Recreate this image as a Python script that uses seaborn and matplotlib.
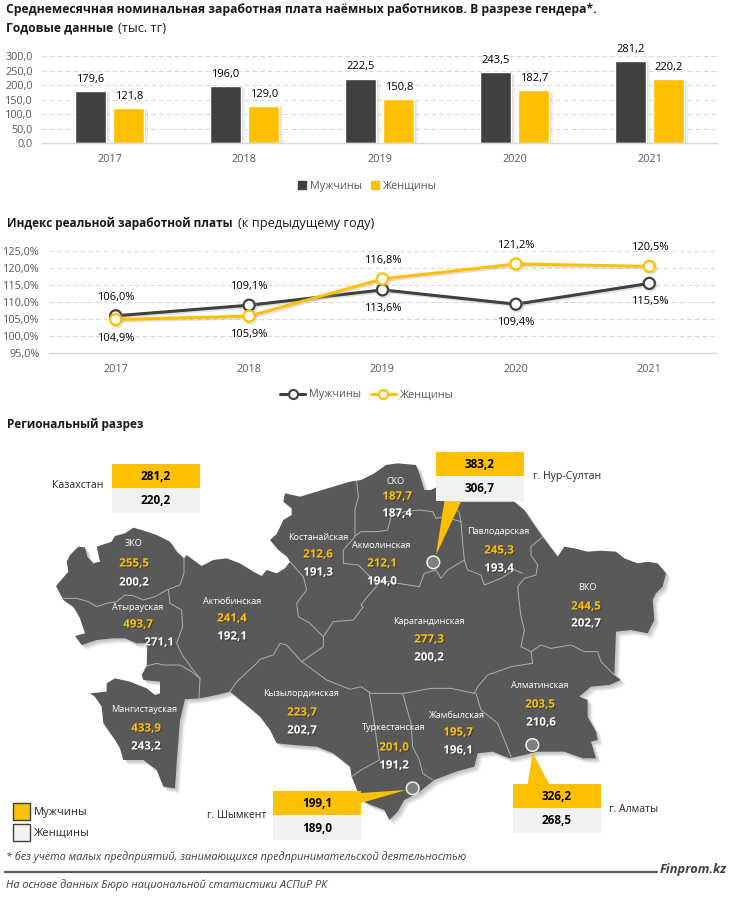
import matplotlib
matplotlib.use("Agg")
import matplotlib.pyplot as plt
import matplotlib.patheffects as pe
from matplotlib.patches import Polygon, Rectangle, Circle
from matplotlib.lines import Line2D
import pandas as pd
import seaborn as sns

# данные
years = ["2017", "2018", "2019", "2020", "2021"]
men_salary = [179.6, 196.0, 222.5, 243.5, 281.2]
women_salary = [121.8, 129.0, 150.8, 182.7, 220.2]
men_index = [106.0, 109.1, 113.6, 109.4, 115.5]
women_index = [104.9, 105.9, 116.8, 121.2, 120.5]
genders = ["Мужчины", "Женщины"]

regions = ["ЗКО", "Атырауская", "Актюбинская", "Костанайская", "Мангистауская",
           "Кызылординская", "СКО", "Акмолинская", "Павлодарская", "ВКО",
           "Карагандинская", "Алматинская", "Жамбылская", "Туркестанская"]
region_men = [255.5, 493.7, 241.4, 212.6, 433.9, 223.7, 187.7, 212.1, 245.3, 244.5,
              277.3, 203.5, 195.7, 201.0]
region_women = [200.2, 271.1, 192.1, 191.3, 243.2, 202.7, 187.4, 194.0, 193.4, 202.7,
                200.2, 210.6, 196.1, 191.2]

cities = ["Казахстан", "г. Нур-Султан", "г. Алматы", "г. Шымкент"]
city_men = [281.2, 383.2, 326.2, 199.1]
city_women = [220.2, 306.7, 268.5, 189.0]

W, H = 731, 897
DARK = "#404040"
YELLOW = "#FFC000"
MAP = "#595959"
LIGHT = "#F2F2F2"
TICK = "#595959"


def fmt(v):
    return f"{v:.1f}".replace(".", ",")


def px_axes(fig, x0, x1, ytop, ybottom):
    return fig.add_axes([x0 / W, 1 - ybottom / H, (x1 - x0) / W, (ybottom - ytop) / H])


# контур карты: z1 - левая часть, z2 - правая
def z1(pts):
    return [(x / 3, 430 + y / 3) for x, y in pts]


def z2(pts):
    return [(361 + x / 3, 430 + y / 3) for x, y in pts]


outline = z1([(168, 468), (205, 425), (200, 395), (210, 375), (235, 350), (255, 352), (262, 380),
              (280, 400), (300, 395), (290, 350), (335, 335), (345, 318), (375, 310), (400, 293),
              (425, 300), (470, 315), (510, 335), (530, 365), (552, 385), (560, 375), (580, 390),
              (605, 408), (640, 390), (680, 385), (720, 400), (760, 425), (785, 438), (800, 420),
              (830, 430), (855, 415), (870, 395), (860, 378), (835, 360), (810, 330), (830, 312),
              (850, 270), (875, 255), (875, 235), (850, 215), (855, 190), (900, 200), (950, 185),
              (1000, 170), (1050, 155)]) + \
    z2([(0, 150), (40, 130), (75, 105), (110, 100), (165, 105), (175, 130), (190, 180), (210, 180),
        (225, 172), (250, 215), (460, 215), (490, 240), (520, 285), (545, 320), (575, 360),
        (590, 380), (610, 350), (640, 355), (680, 365), (720, 362), (765, 365), (790, 385),
        (830, 400), (860, 395), (890, 400), (915, 430), (905, 470), (885, 490), (875, 510),
        (880, 570), (860, 610), (810, 600), (765, 605), (760, 735), (780, 750), (745, 765),
        (690, 770), (655, 800), (680, 810), (680, 860), (705, 905), (710, 930), (690, 935),
        (705, 985), (665, 985), (610, 965), (530, 965), (490, 975), (445, 985), (395, 965),
        (350, 970), (340, 1010), (285, 1025), (220, 1050), (170, 1090), (130, 1110), (110, 1145),
        (85, 1170), (70, 1140), (30, 1125), (0, 1110)]) + \
    z1([(1055, 1040), (1050, 1010), (1000, 970), (950, 950), (880, 945), (830, 940), (810, 900),
        (780, 860), (745, 830), (690, 785), (650, 795), (600, 805), (555, 808), (540, 870),
        (530, 1000), (525, 1075), (490, 1070), (470, 1020), (430, 990), (370, 990), (360, 955),
        (345, 930), (310, 880), (305, 830), (285, 800), (270, 790), (320, 785), (320, 760),
        (345, 745), (390, 755), (440, 775), (465, 795), (480, 790), (480, 755), (430, 750),
        (425, 735), (440, 708), (442, 640), (410, 640), (375, 625), (340, 625), (290, 630),
        (245, 645), (225, 618), (255, 610), (240, 565), (220, 530), (190, 510)])

borders = [
    z1([(188, 505), (230, 505), (265, 515), (290, 530), (320, 520), (350, 515), (375, 495), (400, 497),
        (430, 510), (465, 500), (500, 480), (540, 465), (552, 430), (552, 385)]),
    z1([(505, 480), (510, 520), (545, 540), (548, 590), (530, 640), (550, 680), (580, 720), (600, 745)]),
    z1([(440, 708), (470, 700), (490, 705), (540, 705), (575, 725), (600, 745), (597, 805)]),
    z1([(870, 395), (910, 440), (920, 480), (890, 520), (895, 560), (930, 580), (970, 620), (970, 650), (905, 695)]),
    z1([(690, 785), (710, 755), (770, 700), (780, 688), (820, 675), (840, 640), (860, 645), (905, 695)]),
    z1([(970, 620), (1000, 575), (1060, 570), (1090, 530)]) +
    z2([(0, 525), (15, 505), (50, 465), (60, 450), (110, 460), (175, 470), (190, 430), (225, 420),
        (240, 445), (260, 420), (310, 390)]),
    z1([(1070, 155), (1075, 200), (1065, 240), (1065, 320), (1030, 360), (1030, 400), (1075, 405), (1100, 430)]) +
    z2([(50, 465)]),
    z1([(1065, 318)]) + z2([(0, 305), (50, 305), (80, 300), (90, 260), (130, 245), (175, 240), (215, 245),
                            (225, 265), (250, 260), (300, 275), (295, 250), (280, 225)]),
    z2([(300, 275), (305, 340), (310, 390), (320, 420), (360, 435), (370, 465), (420, 445), (460, 420), (485, 430)]),
    z2([(545, 320), (510, 350), (510, 375), (530, 405), (525, 435), (490, 445), (470, 470), (475, 520),
        (480, 560), (490, 600), (480, 650), (510, 665)]),
    z2([(510, 665), (540, 645), (570, 655), (630, 645), (670, 665), (710, 665), (720, 695), (745, 720), (760, 735)]),
    z2([(510, 665), (515, 700), (450, 710), (380, 735), (350, 770), (340, 790)]),
    z2([(340, 790), (270, 775), (210, 775), (130, 790), (30, 790), (0, 770)]) +
    z1([(1050, 778), (980, 750), (905, 695)]),
    z2([(345, 790), (360, 840), (410, 880), (430, 930), (450, 980)]),
    z2([(125, 790), (150, 880), (155, 950), (175, 990), (185, 1030), (215, 1050)]),
    z2([(25, 790), (40, 880), (55, 990), (0, 1020)]) + z1([(1055, 1040)]),
]

# положения подписей: название, мужчины, женщины
label_pos = [
    ((134, 543), (134, 563), (134, 582)),
    ((138, 607), (138, 624), (159, 642)),
    ((232, 601), (232, 618), (232, 636)),
    ((318, 538), (318, 554), (318, 572)),
    ((144, 710), (146, 728), (146, 746)),
    ((301, 694), (302, 712), (302, 730)),
    ((396, 482), (397, 496), (397, 513)),
    ((381, 545), (382, 563), (382, 581)),
    ((498, 532), (499, 550), (499, 568)),
    ((587, 587), (586, 606), (586, 623)),
    ((429, 622), (429, 639), (429, 657)),
    ((540, 685), (540, 704), (541, 722)),
    ((457, 715), (458, 732), (458, 750)),
    ((394, 727), (394, 747), (394, 765)),
]
# левый край и верх блока, подпись города
city_boxes = [(112, 464), (436, 452), (513, 784), (273, 791)]
city_label_pos = [(78, 485, "center"), (533, 476, "left"), (609, 809, "left"), (237, 815, "center")]

sns.set_theme(style="white")
plt.rcParams["font.family"] = ["Open Sans", "DejaVu Sans"]
plt.rcParams["axes.unicode_minus"] = False

fig = plt.figure(figsize=(W / 100, H / 100), dpi=100)

# общий слой в пикселях картинки
bg = fig.add_axes([0, 0, 1, 1], zorder=0)
bg.set_xlim(0, W)
bg.set_ylim(H, 0)
bg.axis("off")

# столбцы
ax1 = px_axes(fig, 42, 717, 56, 143.3)
df_bars = pd.DataFrame({
    "year": years * 2,
    "gender": [genders[0]] * 5 + [genders[1]] * 5,
    "value": men_salary + women_salary,
})
sns.barplot(data=df_bars, x="year", y="value", hue="gender", hue_order=genders,
            palette=[DARK, YELLOW], saturation=1, width=0.57, gap=0.195, legend=False, ax=ax1)
ax1.set_xlim(-0.5, 4.5)
ax1.set_ylim(0, 300)
ticks1 = [0, 50, 100, 150, 200, 250, 300]
ax1.set_yticks(ticks1)
ax1.set_yticklabels([fmt(v) for v in ticks1])
for patch in ax1.patches:
    patch.set_path_effects([pe.SimplePatchShadow(offset=(3, -1), shadow_rgbFace="#AAAAAA", alpha=0.18),
                            pe.SimplePatchShadow(offset=(1.5, -0.5), shadow_rgbFace="#AAAAAA", alpha=0.3),
                            pe.Normal()])
for cont, vals in zip(ax1.containers, [men_salary, women_salary]):
    ax1.bar_label(cont, labels=[fmt(v) for v in vals], padding=4.5, fontsize=8, color="black")

# индекс
ax2 = px_axes(fig, 49, 716, 251, 353.3)
df_idx = pd.DataFrame({
    "year": years * 2,
    "gender": [genders[0]] * 5 + [genders[1]] * 5,
    "value": men_index + women_index,
})
sns.lineplot(data=df_idx, x="year", y="value", hue="gender", hue_order=genders,
             palette=[DARK, YELLOW], marker="o", markersize=8, linewidth=2.2, sort=False,
             legend=False, ax=ax2)
for line in ax2.lines:
    line.set_markerfacecolor("white")
    line.set_markeredgecolor(line.get_color())
    line.set_markeredgewidth(1.6)
    line.set_path_effects([pe.SimpleLineShadow(offset=(1.2, -1.2), shadow_color="#AAAAAA", alpha=0.35), pe.Normal()])
ax2.set_xlim(-0.5, 4.5)
ax2.set_ylim(95, 125)
ticks2 = [95, 100, 105, 110, 115, 120, 125]
ax2.set_yticks(ticks2)
ax2.set_yticklabels([fmt(v) + "%" for v in ticks2])
for i, (m, w) in enumerate(zip(men_index, women_index)):
    sign = 1 if m > w else -1
    ax2.annotate(fmt(m) + "%", (i, m), xytext=(0, sign * 13.3), textcoords="offset points",
                 ha="center", va="center", fontsize=8, color="black")
    ax2.annotate(fmt(w) + "%", (i, w), xytext=(0, -sign * 13.3), textcoords="offset points",
                 ha="center", va="center", fontsize=8, color="black")

for ax in (ax1, ax2):
    ax.patch.set_alpha(0)
    ax.set_xlabel("")
    ax.set_ylabel("")
    sns.despine(ax=ax, left=True)
    ax.spines["bottom"].set_color("#D9D9D9")
    ax.spines["bottom"].set_linewidth(1)
    ax.grid(axis="y", color="#D9D9D9", linestyle=(0, (4, 3)), linewidth=0.8)
    ax.set_axisbelow(True)
    ax.tick_params(axis="both", length=0, labelsize=7.8, labelcolor=TICK)
    ax.tick_params(axis="y", pad=6.5)
    ax.tick_params(axis="x", pad=8)


# заголовки
def title(x, y, bold, normal=None, size=8.7):
    t = bg.text(x, y, bold, fontsize=size, fontweight="bold", color="#1A1A1A", va="center", ha="left")
    if normal:
        fig.canvas.draw()
        box = t.get_window_extent()
        bg.text(box.x1 + 5, y, normal, fontsize=9.2, color="#1A1A1A", va="center", ha="left")


title(6, 10, "Среднемесячная номинальная заработная плата наёмных работников. В разрезе гендера*.")
title(6, 28, "Годовые данные", "(тыс. тг)")
title(7, 223, "Индекс реальной заработной платы", "(к предыдущему году)", size=8.5)
title(7, 424, "Региональный разрез", size=8.5)

# легенды
leg = bg.legend(handles=[Rectangle((0, 0), 1, 1, color=DARK), Rectangle((0, 0), 1, 1, color=YELLOW)], labels=genders,
                ncol=2, loc="center", bbox_to_anchor=(367.5, 186), bbox_transform=bg.transData, frameon=False,
                fontsize=7.8, labelcolor=TICK, handlelength=0.75, handleheight=0.75, handletextpad=0.35, columnspacing=0.8)
bg.add_artist(leg)
line_handles = [Line2D([], [], color=c, lw=2.2, marker="o", ms=6.5, mfc="white", mec=c, mew=1.5)
                for c in (DARK, YELLOW)]
bg.legend(handles=line_handles, labels=genders, ncol=2, loc="center", bbox_to_anchor=(367, 395),
          bbox_transform=bg.transData, frameon=False, fontsize=7.8, labelcolor=TICK, handlelength=2.3,
          handletextpad=0.35, columnspacing=0.9)

# карта
for off in [7, 6, 5, 4, 3, 2]:
    shadow = Polygon([(x + off * 0.7, y + off * 0.7) for x, y in outline], closed=True,
                     facecolor="#666666", alpha=0.07, edgecolor="none", zorder=1)
    bg.add_patch(shadow)
bg.add_patch(Polygon(outline, closed=True, facecolor=MAP, edgecolor="none", zorder=2))
for b in borders:
    bg.plot([p[0] for p in b], [p[1] for p in b], color="#B0B0B0", lw=0.7, zorder=3)

shadow_fx = [pe.SimplePatchShadow(offset=(1, -1), shadow_rgbFace="black", alpha=0.22), pe.Normal()]
for name, m, w, pos in zip(regions, region_men, region_women, label_pos):
    bg.text(*pos[0], name, color="white", fontsize=6.6, ha="center", va="center", zorder=6)
    bg.text(*pos[1], fmt(m), color=YELLOW, fontsize=8.3, fontweight="bold", ha="center", va="center",
            zorder=6, path_effects=shadow_fx)
    bg.text(*pos[2], fmt(w), color="white", fontsize=8.3, fontweight="bold", ha="center", va="center",
            zorder=6, path_effects=shadow_fx)

# выноски городов
callouts = [
    (z2([(250, 215), (300, 215), (225, 375)]), z2([(217, 397)])[0]),
    (z2([(515, 968), (500, 1062), (565, 1062)]), z2([(514, 945)])[0]),
    ([(361, 793), (361, 803), (406, 790)], z2([(155, 1075)])[0]),
]
for tri, centre in callouts:
    bg.add_patch(Polygon(tri, closed=True, facecolor=YELLOW, edgecolor="none", zorder=4))
    bg.add_patch(Circle(centre, 6.3, facecolor="#7F7F7F", edgecolor="#F2F2F2", lw=1.1, zorder=5))

for (x, y), m, w, name, lab in zip(city_boxes, city_men, city_women, cities, city_label_pos):
    bg.add_patch(Rectangle((x, y), 88, 24.5, facecolor=YELLOW, edgecolor="none", zorder=7))
    bg.add_patch(Rectangle((x, y + 24.5), 88, 24.5, facecolor=LIGHT, edgecolor="none", zorder=7))
    bg.text(x + 44, y + 12.5, fmt(m), fontsize=8.5, fontweight="bold", color="black", ha="center", va="center", zorder=8)
    bg.text(x + 44, y + 37, fmt(w), fontsize=8.5, fontweight="bold", color="black", ha="center", va="center", zorder=8)
    bg.text(lab[0], lab[1], name, fontsize=7.6, color="#262626", ha=lab[2], va="center", zorder=8)

# легенда карты
for y, c, name in [(803, YELLOW, genders[0]), (824, LIGHT, genders[1])]:
    bg.add_patch(Rectangle((13, y), 17, 17, facecolor=c, edgecolor="#404040", lw=1, zorder=7))
    bg.text(34, y + 9, name, fontsize=8, color="#262626", ha="left", va="center", zorder=8)

# подвал
bg.text(6, 857, "* без учёта малых предприятий, занимающихся предпринимательской деятельностью",
        fontsize=7.8, style="italic", color="#404040", ha="left", va="center")
bg.plot([5, 657], [872.5, 872.5], color="#595959", lw=1.6)
bg.text(727, 870, "Finprom.kz", fontsize=9.3, style="italic", fontweight="bold", color="#404040", ha="right", va="center")
bg.text(6, 885, "На основе данных Бюро национальной статистики АСПиР РК",
        fontsize=7.8, style="italic", color="#404040", ha="left", va="center")

bg.set_xlim(0, W)
bg.set_ylim(H, 0)
fig.savefig("out.png", dpi=100)
